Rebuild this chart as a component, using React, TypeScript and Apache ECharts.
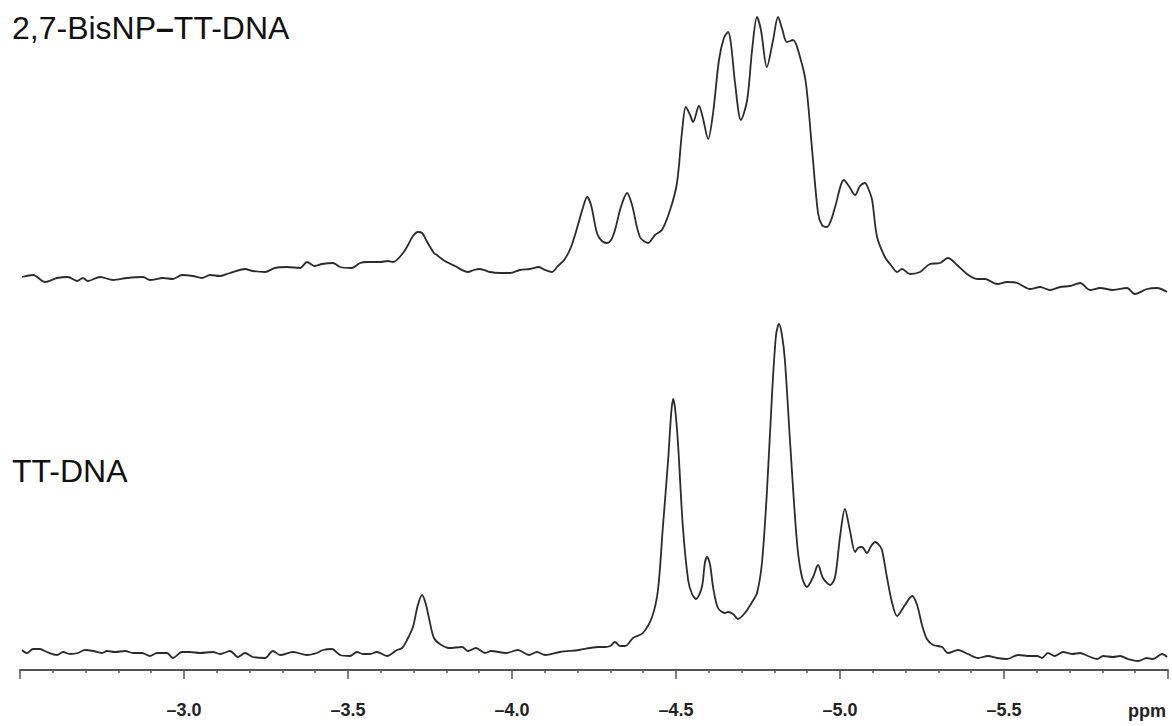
import React, { useEffect, useRef } from "react";
import * as echarts from "echarts";

// Chemical shift (ppm) and intensity (a.u.)
const topPpm = [
  -2.506, -2.54, -2.576, -2.613, -2.646, -2.674, -2.692, -2.707, -2.744, -2.784, -2.826, -2.875, -2.896, -2.936, -2.966,
  -2.994, -3.027, -3.055, -3.079, -3.11, -3.14, -3.186, -3.21, -3.247, -3.277, -3.314, -3.354, -3.375, -3.399, -3.421,
  -3.454, -3.476, -3.512, -3.537, -3.558, -3.598, -3.622, -3.637, -3.668, -3.683, -3.698, -3.713, -3.726, -3.738, -3.762,
  -3.771, -3.79, -3.826, -3.866, -3.884, -3.902, -3.933, -3.963, -3.994, -4.024, -4.055, -4.082, -4.101, -4.122, -4.14,
  -4.159, -4.18, -4.201, -4.216, -4.229, -4.241, -4.259, -4.274, -4.29, -4.302, -4.314, -4.332, -4.351, -4.366, -4.39,
  -4.415, -4.436, -4.457, -4.482, -4.503, -4.518, -4.53, -4.543, -4.552, -4.57, -4.582, -4.598, -4.613, -4.631, -4.646,
  -4.659, -4.668, -4.68, -4.698, -4.717, -4.732, -4.747, -4.759, -4.777, -4.796, -4.811, -4.823, -4.838, -4.857, -4.878,
  -4.896, -4.915, -4.933, -4.945, -4.96, -4.973, -4.985, -5.012, -5.027, -5.046, -5.061, -5.076, -5.088, -5.098, -5.113,
  -5.137, -5.155, -5.174, -5.189, -5.213, -5.244, -5.274, -5.305, -5.329, -5.357, -5.387, -5.418, -5.442, -5.479, -5.509,
  -5.54, -5.579, -5.61, -5.64, -5.671, -5.701, -5.732, -5.762, -5.793, -5.832, -5.875, -5.899, -5.936, -5.967, -5.997,
];
const topIntensity = [
  23, 25, 18, 22, 23, 19, 22, 19, 23, 20, 22, 23, 20, 22, 21,
  25, 24, 22, 25, 24, 27, 31, 29, 28, 32, 33, 32, 38, 34, 36,
  37, 33, 32, 37, 38, 38, 39, 38, 47, 55, 64, 68, 67, 60, 47,
  45, 40, 34, 28, 30, 31, 28, 27, 27, 30, 31, 33, 30, 28, 34,
  40, 53, 75, 92, 103, 95, 67, 59, 57, 60, 70, 93, 107, 95, 63,
  57, 65, 70, 90, 117, 167, 193, 185, 178, 194, 182, 161, 187, 240, 262,
  268, 255, 217, 180, 200, 250, 283, 270, 233, 260, 283, 272, 258, 260, 243,
  217, 150, 87, 75, 73, 80, 93, 120, 114, 105, 114, 117, 110, 100, 63,
  43, 35, 28, 31, 26, 28, 36, 37, 42, 35, 26, 21, 21, 16, 18,
  17, 11, 13, 10, 13, 14, 17, 10, 12, 10, 12, 6, 11, 12, 8,
];

const bottomPpm = [
  -2.506, -2.521, -2.54, -2.561, -2.582, -2.613, -2.631, -2.652, -2.677, -2.698, -2.723, -2.75, -2.765, -2.79, -2.82,
  -2.845, -2.872, -2.896, -2.918, -2.948, -2.966, -2.994, -3.018, -3.049, -3.088, -3.11, -3.14, -3.165, -3.186, -3.21,
  -3.247, -3.271, -3.293, -3.332, -3.375, -3.405, -3.424, -3.451, -3.476, -3.506, -3.527, -3.546, -3.567, -3.588, -3.619,
  -3.649, -3.665, -3.68, -3.698, -3.713, -3.726, -3.738, -3.75, -3.762, -3.78, -3.808, -3.848, -3.866, -3.89, -3.918,
  -3.936, -3.982, -4.018, -4.052, -4.076, -4.101, -4.146, -4.204, -4.262, -4.284, -4.299, -4.314, -4.329, -4.345, -4.369,
  -4.399, -4.427, -4.445, -4.46, -4.476, -4.485, -4.491, -4.497, -4.506, -4.521, -4.537, -4.549, -4.561, -4.579, -4.588,
  -4.595, -4.604, -4.613, -4.628, -4.649, -4.659, -4.674, -4.689, -4.71, -4.732, -4.747, -4.762, -4.777, -4.793, -4.805,
  -4.814, -4.823, -4.832, -4.848, -4.869, -4.884, -4.899, -4.918, -4.933, -4.948, -4.97, -4.985, -5.0, -5.015, -5.03,
  -5.046, -5.055, -5.067, -5.082, -5.095, -5.107, -5.119, -5.128, -5.143, -5.159, -5.174, -5.198, -5.22, -5.235, -5.25,
  -5.265, -5.284, -5.311, -5.329, -5.36, -5.39, -5.421, -5.451, -5.479, -5.509, -5.543, -5.579, -5.601, -5.616, -5.634,
  -5.655, -5.68, -5.707, -5.732, -5.756, -5.784, -5.802, -5.832, -5.854, -5.878, -5.909, -5.936, -5.954, -5.982, -5.997,
];
const bottomIntensity = [
  20, 17, 21, 21, 18, 15, 18, 16, 17, 20, 19, 17, 19, 18, 19,
  17, 17, 14, 17, 17, 12, 18, 18, 17, 18, 16, 19, 13, 17, 13,
  12, 19, 15, 18, 15, 17, 20, 21, 15, 14, 18, 16, 16, 18, 14,
  20, 22, 30, 43, 65, 75, 65, 47, 32, 26, 22, 23, 19, 22, 17,
  19, 17, 20, 15, 18, 15, 18, 20, 23, 23, 24, 28, 24, 24, 32,
  37, 53, 80, 143, 210, 255, 271, 262, 227, 143, 90, 76, 71, 83, 107,
  113, 105, 83, 62, 57, 58, 56, 51, 57, 68, 77, 107, 177, 277, 335,
  346, 335, 310, 227, 127, 93, 83, 93, 105, 92, 85, 93, 133, 161, 140,
  118, 122, 123, 117, 124, 128, 125, 120, 93, 67, 54, 65, 74, 65, 45,
  31, 25, 23, 17, 20, 16, 12, 14, 12, 11, 15, 14, 14, 12, 17,
  14, 18, 16, 17, 14, 11, 14, 13, 14, 11, 9, 12, 11, 16, 13,
];

const xMin = -6.0;
const xMax = -2.5;
const xStep = 0.5;
const hiddenTickValues = [-2.5, -6.0];
const topLabel = ["2,7-BisNP", "–", "TT-DNA"];
const bottomLabel = "TT-DNA";
const unitLabel = "ppm";

const pairs = (xs: number[], ys: number[]) => xs.map((x, i) => [x, ys[i]]);

export default function App() {
  const ref = useRef<HTMLDivElement>(null);
  useEffect(() => {
    if (!ref.current) return;
    const chart = echarts.init(ref.current, null, { renderer: "svg" });
    const lineColor = "#2b2b2b";
    const font = "Liberation Sans, Arial, sans-serif";
    const xBase = {
      type: "value" as const,
      min: xMin,
      max: xMax,
      interval: xStep,
      inverse: true,
    };
    chart.setOption({
      animation: false,
      backgroundColor: "#ffffff",
      grid: [
        { left: 20, right: 4, top: 0, height: 300 },
        { left: 20, right: 4, top: 320, height: 350 },
      ],
      xAxis: [
        {
          ...xBase,
          gridIndex: 0,
          show: false,
        },
        {
          ...xBase,
          gridIndex: 1,
          offset: 16,
          axisLine: { show: true, lineStyle: { color: "#555555", width: 1.8 } },
          axisTick: { show: true, length: 9, lineStyle: { color: "#555555", width: 1.5 } },
          minorTick: { show: true, splitNumber: 5, length: 3, lineStyle: { color: "#555555", width: 1.5 } },
          splitLine: { show: false },
          minorSplitLine: { show: false },
          axisLabel: {
            margin: 15,
            fontFamily: font,
            fontWeight: "bold",
            fontSize: 18,
            color: "#222222",
            formatter: (v: number) => {
              if (hiddenTickValues.some((h) => Math.abs(h - v) < 1e-6)) return "";
              return v.toFixed(1).replace("-", "–");
            },
          },
        },
      ],
      yAxis: [
        { type: "value", gridIndex: 0, min: 0, max: 300, show: false },
        { type: "value", gridIndex: 1, min: 0, max: 350, show: false },
      ],
      series: [
        {
          type: "line",
          xAxisIndex: 0,
          yAxisIndex: 0,
          data: pairs(topPpm, topIntensity),
          showSymbol: false,
          smooth: 0.3,
          lineStyle: { color: lineColor, width: 1.8 },
        },
        {
          type: "line",
          xAxisIndex: 1,
          yAxisIndex: 1,
          data: pairs(bottomPpm, bottomIntensity),
          showSymbol: false,
          smooth: 0.3,
          lineStyle: { color: lineColor, width: 1.8 },
        },
      ],
      graphic: [
        {
          type: "text",
          left: 12,
          top: 12,
          style: {
            text: `{a|${topLabel[0]}}{b|${topLabel[1]}}{a|${topLabel[2]}}`,
            rich: {
              a: { fontFamily: font, fontSize: 32, fill: "#111111" },
              b: { fontFamily: font, fontSize: 32, fontWeight: "bold", fill: "#111111" },
            },
          },
        },
        {
          type: "text",
          left: 12,
          top: 455,
          style: {
            text: bottomLabel,
            fontFamily: font,
            fontSize: 32,
            fill: "#111111",
          },
        },
        {
          type: "text",
          right: 6,
          top: 702,
          style: {
            text: unitLabel,
            fontFamily: font,
            fontSize: 18,
            fontWeight: "bold",
            fill: "#222222",
          },
        },
      ],
    });
    return () => chart.dispose();
  }, []);
  return (
    <div
      ref={ref}
      style={{ position: "absolute", left: 0, top: 0, width: 1172, height: 726, background: "#fff" }}
    />
  );
}
